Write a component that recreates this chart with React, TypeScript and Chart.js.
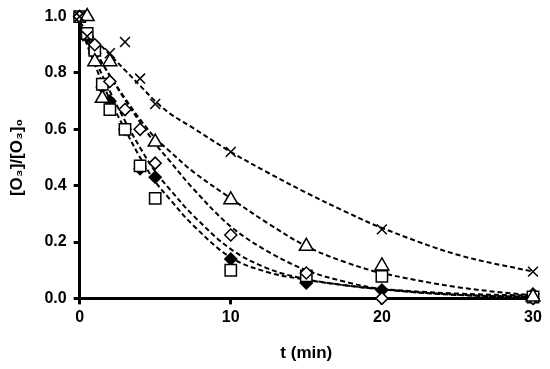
import React, { useEffect, useRef } from "react";
import { Chart, registerables } from "chart.js";

Chart.register(...registerables);

// ---- Measured points (t in min, [O3]/[O3]0) ----
const crossT = [0, 0.5, 2, 3, 4, 5, 10, 20, 30];
const crossV = [1.0, 0.93, 0.87, 0.91, 0.78, 0.69, 0.52, 0.245, 0.095];

const triT = [0.5, 1, 1.5, 2, 5, 10, 15, 20, 30];
const triV = [1.0, 0.84, 0.71, 0.84, 0.555, 0.35, 0.185, 0.115, 0.005];

const openDiaT = [0, 1, 2, 3, 4, 5, 10, 15, 20, 30];
const openDiaV = [1.0, 0.9, 0.77, 0.67, 0.6, 0.48, 0.225, 0.09, 0.0, 0.0];

const fillDiaT = [0, 0.5, 1, 1.5, 2, 3, 4, 5, 10, 15, 20, 30];
const fillDiaV = [1.0, 0.93, 0.87, 0.75, 0.7, 0.6, 0.46, 0.43, 0.14, 0.055, 0.03, 0.015];

const squareT = [0, 0.5, 1, 1.5, 2, 3, 4, 5, 10, 15, 20, 30];
const squareV = [1.0, 0.94, 0.88, 0.76, 0.67, 0.6, 0.47, 0.355, 0.1, 0.08, 0.078, 0.005];

// ---- Fitted curves ----
const fitT = [0, 1, 2, 3, 4, 5, 6, 7.5, 10, 12.5, 15, 17.5, 20, 25, 30];
const fitCross = [0.98, 0.92, 0.865, 0.81, 0.755, 0.7, 0.655, 0.605, 0.52, 0.445, 0.375, 0.31, 0.25, 0.155, 0.095];
const fitTri = [0.97, 0.88, 0.79, 0.71, 0.635, 0.57, 0.52, 0.45, 0.355, 0.265, 0.185, 0.13, 0.09, 0.04, 0.01];
const fitOpenDia = [0.97, 0.88, 0.79, 0.705, 0.625, 0.55, 0.485, 0.39, 0.255, 0.165, 0.1, 0.06, 0.033, 0.012, 0.005];
const fitFillDia = [0.97, 0.85, 0.735, 0.63, 0.535, 0.45, 0.385, 0.295, 0.175, 0.105, 0.068, 0.047, 0.033, 0.017, 0.01];
const fitSquare = [0.97, 0.83, 0.705, 0.6, 0.5, 0.415, 0.35, 0.26, 0.145, 0.092, 0.066, 0.047, 0.032, 0.013, 0.005];

const xTicks = [0, 10, 20, 30];
const yTicks = [0, 0.2, 0.4, 0.6, 0.8, 1.0];

const pts = (t: number[], v: number[]) => t.map((x, i) => ({ x, y: v[i] }));

export default function App() {
  const ref = useRef<HTMLCanvasElement | null>(null);
  useEffect(() => {
    document.body.style.margin = "0";
    const ctx = ref.current!.getContext("2d")!;
    const fit = (v: number[]) => ({
      type: "line" as const,
      data: pts(fitT, v),
      borderColor: "#000",
      borderWidth: 2,
      borderDash: [5, 3],
      pointRadius: 0,
      tension: 0.35,
      showLine: true,
      fill: false,
      order: 2,
    });
    const mark = (t: number[], v: number[], style: string, r: number, filled: boolean) => ({
      type: "scatter" as const,
      data: pts(t, v),
      pointStyle: style,
      pointRadius: r,
      pointBorderColor: "#000",
      pointBackgroundColor: filled ? "#000" : "#fff",
      pointBorderWidth: 1.5,
      showLine: false,
      clip: false,
      order: 1,
    });
    const chart = new Chart(ctx, {
      type: "scatter",
      data: {
        datasets: [
          fit(fitCross),
          fit(fitTri),
          fit(fitOpenDia),
          fit(fitFillDia),
          fit(fitSquare),
          mark(crossT, crossV, "crossRot", 7, false),
          mark(triT, triV, "triangle", 8, false),
          mark(openDiaT, openDiaV, "rectRot", 6, false),
          mark(squareT, squareV, "rect", 8, false),
          mark(fillDiaT, fillDiaV, "rectRot", 6, true),
        ] as any,
      },
      options: {
        animation: false,
        responsive: false,
        maintainAspectRatio: false,
        layout: { padding: { left: 6, right: 17, top: 7, bottom: 5 } },
        plugins: { legend: { display: false }, tooltip: { enabled: false } },
        scales: {
          x: {
            type: "linear",
            min: 0,
            max: 30,
            afterBuildTicks: (s: any) => { s.ticks = xTicks.map((value) => ({ value })); },
            ticks: {
              color: "#000",
              font: { family: "'Liberation Sans', Arial, sans-serif", size: 16, weight: "bold" },
              padding: 4,
            },
            grid: { drawOnChartArea: false, drawTicks: true, tickLength: 6, tickWidth: 3, color: "#000" },
            border: { display: true, width: 3, color: "#000" },
            title: {
              display: true,
              text: "t (min)",
              color: "#000",
              font: { family: "'Liberation Sans', Arial, sans-serif", size: 17, weight: "bold" },
              padding: { top: 12, bottom: 0 },
            },
          },
          y: {
            type: "linear",
            min: 0,
            max: 1.0,
            afterBuildTicks: (s: any) => { s.ticks = yTicks.map((value) => ({ value })); },
            ticks: {
              color: "#000",
              font: { family: "'Liberation Sans', Arial, sans-serif", size: 16, weight: "bold" },
              padding: 7,
              callback: (v: any) => Number(v).toFixed(1),
            },
            grid: { drawOnChartArea: false, drawTicks: true, tickLength: 6, tickWidth: 3, color: "#000" },
            border: { display: true, width: 3, color: "#000" },
            title: {
              display: true,
              text: "[O₃]/[O₃]₀",
              color: "#000",
              font: { family: "'Liberation Sans', Arial, sans-serif", size: 17, weight: "bold" },
              padding: { top: 1, bottom: 10 },
            },
          },
        },
      },
    });
    return () => chart.destroy();
  }, []);
  return (
    <div style={{ position: "absolute", left: 0, top: 0, width: 550, height: 369 }}>
      <canvas ref={ref} width={550} height={369} style={{ width: 550, height: 369 }} />
    </div>
  );
}
